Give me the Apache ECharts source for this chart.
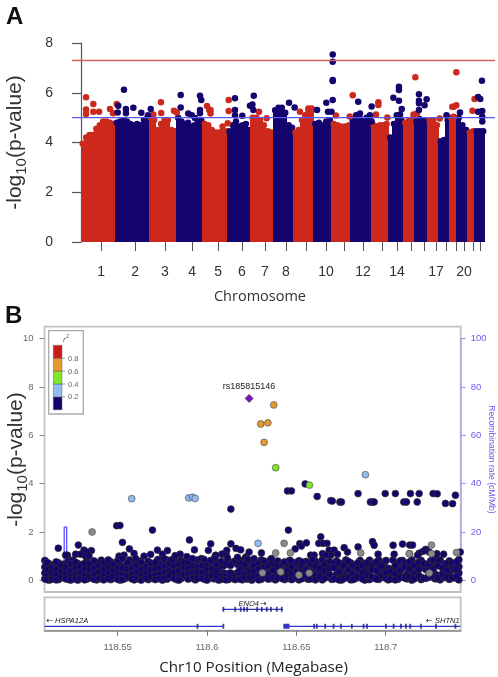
<!DOCTYPE html>
<html><head><meta charset="utf-8">
<style>html,body{margin:0;padding:0;background:#fff}#c{width:498px;height:677px}</style>
<script src="https://cdn.jsdelivr.net/npm/echarts@6/dist/echarts.min.js"></script></head>
<body><div id="c"></div>
<script>
// ---- Panel A data (genome position in Mb from the start of chr1) ----
const chromSpans=[243,243,196,189,178,164,161,146,139,132,136,150,118,107,82,93,79,75,54,79,50,71];
const chromTicks=[143,386,600,793,979,1150,1314,1464,1607,1750,1879,2014,2150,2257,2357,2450,2536,2607,2679,2736,2800,2850];
const chromLabelPos=[143,386,600,793,979,1150,1314,1464,1750,2014,2257,2536,2736];
const chromLabels=['1','2','3','4','5','6','7','8','10','12','14','17','20'];
const chromTops=[
[3.95,4.2,4.3,4.3,4.55,4.7,4.85,4.85,4.8,4.75],
[4.8,4.85,4.9,4.85,4.75,4.7,4.75,4.7,4.9,5.0],
[5.0,4.9,4.5,4.75,4.9,4.9,4.5,4.45],
[5.0,4.85,4.75,4.8,4.65,4.7,4.85,4.9],
[4.75,4.7,4.5,4.4,4.4,4.65,4.45],
[4.45,4.7,4.85,4.65,4.7,4.75,4.5],
[5.0,5.0,4.9,4.7,4.45,4.4],
[5.3,5.4,5.4,5.2,4.7,4.6],
[4.4,4.5,4.9,5.1,5.3,5.3],
[4.75,4.8,4.7,4.85,4.9],
[4.75,4.7,4.65,4.65,4.7],
[4.9,5.1,5.0,4.9,5.0,4.9],
[4.7,4.65,4.7,4.7,4.75],
[4.2,4.75,5.05,4.9],
[4.8,4.9,4.95],
[4.85,4.95,4.9,4.85],
[4.9,4.9,4.7],
[4.05,4.1,4.9],
[5.0,4.95],
[5.0,4.7,4.5],
[4.4,4.45],
[4.45,4.45,4.45]];
const redHits=[[36,5.82],[36,5.33],[36,5.15],[88,5.55],[88,5.24],[129,5.24],[207,5.35],[229,5.18],[255,5.55],[571,5.62],[573,5.19],[516,5.13],[664,5.28],[684,5.21],[900,5.47],[916,5.31],[925,5.31],[925,5.17],[1055,5.71],[1055,5.27],[1048,4.77],[1271,5.24],[1326,4.97],[1564,5.24],[1624,5.37],[1648,5.37],[1821,5.09],[1919,5.05],[1941,5.9],[2124,5.62],[2124,5.51],[2107,5.13],[2188,5.01],[2388,6.62],[2375,5.13],[2400,5.17],[2562,4.96],[2652,5.44],[2662,5.04],[2662,5.44],[2681,5.5],[2681,6.82],[2796,5.28],[2811,5.75]];
const navyHits=[[307,6.12],[266,5.48],[262,5.21],[321,5.35],[321,5.18],[374,5.4],[431,5.2],[498,5.35],[479,5.1],[712,5.91],[712,5.41],[850,5.88],[850,5.31],[850,5.18],[859,5.71],[766,5.17],[791,5.1],[814,4.98],[1100,5.78],[1100,5.31],[1100,5.1],[1152,5.08],[1207,5.48],[1224,5.53],[1234,5.88],[1231,5.31],[1486,5.6],[1526,5.41],[1686,5.31],[1752,5.6],[1764,5.24],[1789,5.24],[1798,7.54],[1798,7.25],[1798,6.51],[1798,6.47],[1798,5.71],[1980,5.64],[1993,5.17],[2076,5.45],[2064,5.1],[2076,4.84],[2231,5.8],[2271,6.24],[2271,6.11],[2271,5.68],[2291,5.35],[2255,5.1],[2279,5.13],[2414,5.94],[2414,5.68],[2414,5.58],[2414,5.31],[2469,5.74],[2454,5.5],[2611,5.1],[2707,5.21],[2836,5.83],[2836,5.24],[2852,5.75],[2864,6.48],[2866,5.27],[2866,5.04],[2866,4.84]];
const thresholds=[7.3,5];

// ---- Panel B data (kb from regionStartMb, -log10 p) ----
const regionStartMb=118.49944;
const leadSnp=[[124.1,7.53]];
const orangeSnps=[[137.9,7.26],[130.6,6.47],[134.6,6.52],[132.5,5.71]];
const greenSnps=[[139,4.66],[157.9,3.94]];
const lightBlueSnps=[[58.4,3.38],[90.3,3.41],[92.4,3.44],[93.9,3.39],[189.2,4.37],[129.1,1.53]];
const grayLowSnps=[[36.2,2.0],[143.7,1.53],[139,1.13],[147.2,1.13],[186.6,1.13],[226.2,1.46],[226.2,1.1],[240.2,1.15],[214,1.1],[213.7,1.1],[131.6,.31],[157.7,.3],[141.8,.35],[152,.22],[225,.3]];
const navyHighSnps=[[155.5,3.99],[145.6,3.7],[147.8,3.7],[162.2,3.47],[169.8,3.3],[170.7,3.28],[174.9,3.24],[175.8,3.24],[185.1,3.59],[192,3.24],[193.1,3.24],[194.1,3.24],[200.3,3.59],[206,3.59],[210.7,3.24],[212.2,3.24],[214.4,3.59],[218.2,3.24],[219.3,3.59],[227.1,3.59],[229.4,3.58],[234,3.18],[238,3.17],[239.6,3.52],[113.9,2.95],[50,2.26],[51.8,2.27],[70,2.08],[146.1,2.08],[164.2,1.8]];
const navyFringe=[[17.3,1.33],[28.5,1.46],[53.2,1.57],[31.7,1.25],[35.8,1.23],[33.2,1.17],[57.1,1.3],[59.7,1.11],[27,1.08],[22.4,1.04],[21.4,1.04],[29.8,1.08],[32.6,1],[34.5,1],[72.8,1.25],[78.4,1.23],[75.6,1.08],[69,1.07],[65.3,1],[60.6,.9],[51.3,1],[54.1,1.04],[85.5,1.08],[76.5,.9],[53.2,.9],[81.2,.86],[90.7,1.67],[93.5,1.26],[101.3,1.24],[102.6,1.51],[113.9,1.51],[111.6,1.24],[116.8,1.32],[119.4,1.26],[82.7,1.02],[89.2,.98],[97.6,.88],[105,.98],[108.8,1.08],[122.4,.97],[124.1,1.17],[131,1.13],[109.2,1.08],[111.4,1.04],[105.4,1.04],[122.2,.94],[92.4,.9],[97.4,.9],[104.9,.9],[149.9,1.3],[152.5,1.52],[153.4,1.42],[156.2,1.55],[163.1,1.53],[165.5,1.53],[167.7,1.53],[158.6,1.04],[160.5,1.04],[165.2,1.1],[159.6,.85],[132.5,.8],[136.6,.9],[143.7,.75],[147.4,.8],[152.1,.8],[154,.75],[177.3,1.35],[179.2,1.17],[185.1,1.38],[193.2,1.6],[194.1,1.45],[204.7,1.45],[210,1.5],[214,1.46],[215.6,1.46],[196.3,1.08],[205.3,1.08],[223,1.28],[221.5,1.2],[219.3,1.12],[224.9,1.17],[218.4,1.04],[228.6,1.04],[233,1.08],[229.2,1.1],[242.3,1.17],[168.9,1.25],[171.7,1.25],[173.6,1.08],[169.8,1.04],[167,1.04],[117.6,.95],[112,.92],[123.2,.88],[126.9,.9],[98.9,.86],[102.6,.82]];
// each row: kb position, then the -log10 p values stacked at that position
const snpBand=[
[9.8,.82,.55,.3,.06],[12.2,.68,.42,.15,.01],[14.9,.6,.36,.1],[17.4,.72,.5,.24,.03],[20.1,.66,.4,.12],[22.8,.78,.52,.27,.04],[25.5,.84,.6,.33,.08],[28.2,.7,.45,.18,.01],[30.6,.64,.38,.11],[33.3,.8,.53,.28,.05],[36.1,.58,.34,.09],[38.8,.71,.46,.2,.02],[41.4,.83,.56,.3,.06],[44,.68,.42,.15],[46.7,.76,.5,.24,.03],[49.3,.6,.35,.1],[51.9,.64,.4,.17,.01],[54.6,.58,.32,.07],[57.2,.84,.6,.36,.12],[59.8,.7,.44,.2,.02],[62.4,.8,.53,.27,.05],[65,.66,.4,.14],[67.7,.78,.5,.25,.03],[70.3,.62,.34,.09],[73,.86,.6,.36,.11],[75.6,.7,.46,.2,.01],[78.2,.84,.55,.28,.05],[80.9,.66,.42,.14],[83.5,.76,.5,.24,.03],[86,.82,.58,.31,.07],[88.7,.68,.4,.16],[91.3,.86,.62,.36,.1],[94,.72,.48,.2,.02],[96.6,.66,.41,.14],[99.2,.78,.5,.26,.04],[101.9,.62,.37,.1],[104.5,.84,.58,.3,.06],[107.1,.72,.47,.19,.01],[109.8,.6,.3,.08],[112.4,.8,.66,.28,.03],[115,.74,.25,.07],[117.6,.66,.31,.11],[120.3,.82,.58,.35,.02],[123,.7,.45,.19,.05],[125.6,.76,.5,.26,.01],[128.2,.62,.36,.11],[130.9,.84,.58,.28,.04],[133.5,.7,.42,.15],[136.2,.86,.6,.33,.07],[138.8,.74,.5,.22,.02],[141.4,.66,.12],[144,.75,.5,.23,.03],[146.7,.82,.56,.32,.07],[149.3,.68,.44,.15],[152,.8,.54,.26,.02],[154.6,.72,.44,.1],[157.2,.6,.12,.04],[159.9,.84,.5,.22],[162.5,.7,.4,.08],[165.1,.85,.58,.27,.02],[167.8,.72,.48,.16],[170.4,.62,.12,.04],[173,.8,.55,.24],[175.7,.68,.42,.1,.01],[178.3,.84,.57,.3],[181,.72,.47,.16,.02],[183.6,.6,.34,.07],[186.2,.82,.5,.22],[188.9,.7,.42,.12,.01],[191.5,.83,.56,.36,.03],[194.1,.7,.5,.1],[196.7,.84,.55,.3,.04],[199.4,.68,.42,.14],[202,.5,.22,.02],[204.6,.84,.46,.12],[207.3,.7,.56,.28,.04],[209.9,.82,.5,.17],[212.5,.67,.25,.06],[215.2,.84,.56,.33,.01],[217.8,.7,.44,.14],[220.4,.82,.55,.12,.03],[223.1,.66,.45,.08],[225.7,.8,.55,.28],[228.3,.7,.26,.06],[231,.84,.62,.2,.02],[233.6,.68,.42,.12],[236.2,.8,.54,.3,.04],[238.9,.66,.45,.1],[241.5,.85,.56,.3,.02]];
const snpBandInner=[
[11,.74,.44,.2,.03],[13.6,.52,.27,.04],[16.1,.76,.45,.2,.02],[18.8,.62,.36,.12],[21.4,.54,.28,.06],[24.2,.68,.4,.16,.01],[26.9,.74,.5,.22,.05],[29.4,.56,.3,.08],[32,.7,.46,.18,.02],[34.7,.66,.42,.14],[37.4,.8,.5,.26,.04],[40.1,.6,.36,.1],[42.7,.73,.46,.22,.02],[45.3,.84,.56,.32,.07],[48,.66,.42,.16],[50.6,.82,.5,.26,.04],[53.2,.48,.24,.03],[55.9,.72,.46,.18],[58.5,.5,.26,.06],[61.1,.62,.36,.12],[63.7,.74,.46,.2,.01],[66.4,.56,.3,.08],[69,.7,.44,.16],[71.6,.74,.48,.22,.03],[74.3,.5,.26,.06],[76.9,.8,.56,.34,.11],[79.5,.7,.38,.2],[82.2,.6,.33,.08],[84.8,.66,.4,.14,.01],[87.4,.76,.5,.24],[90,.74,.5,.26,.05],[92.7,.6,.3,.1],[95.3,.84,.56,.34,.08],[97.9,.6,.32,.09],[100.6,.7,.44,.18,.01],[103.2,.72,.48,.2],[105.8,.65,.4,.14],[108.5,.78,.2,.04],[111.1,.7,.16,.02],[113.7,.62,.3,.12],[116.3,.8,.18,.03],[119,.72,.46,.22,.05],[121.6,.64,.27,.1],[124.3,.82,.34,.1],[126.9,.62,.38,.16],[129.5,.72,.47,.2,.02],[132.2,.76,.52,.12],[134.8,.62,.26,.05],[137.5,.66,.42,.12],[140.1,.8,.58,.1],[142.7,.62,.4,.07],[145.4,.68,.38,.14],[148,.58,.27,.03],[150.6,.74,.36,.1],[153.3,.62,.34,.06],[156,.78,.45,.2],[158.6,.68,.35,.06],[161.2,.8,.58,.2,.02],[163.8,.5,.15],[166.5,.65,.38,.1],[169.1,.78,.5,.24],[171.7,.7,.52,.06],[174.4,.72,.35,.02],[177,.62,.2,.06],[179.6,.78,.44,.12],[182.3,.6,.28,.03],[184.9,.72,.48,.14],[187.5,.6,.3,.06],[190.2,.72,.2],[192.8,.62,.44,.14],[195.4,.76,.4,.05],[198,.58,.2],[200.7,.82,.3,.08],[203.3,.36,.05],[205.9,.62,.28,.02],[208.6,.8,.42,.12],[211.2,.72,.55,.1],[213.9,.76,.48,.14],[216.5,.62,.26,.06],[219.1,.74,.45,.18],[221.7,.7,.08],[224.4,.6,.4,.14],[227,.84,.46,.16],[229.7,.78,.6,.1],[232.3,.52,.26],[234.9,.7,.42,.14],[237.5,.72,.12],[240.2,.76,.46,.18]];
const recombKb=[9.6,20.6,20.6,22,22,242.3];
const recombRate=[0,0,22,22,0,0];
const snpTicksMb=[118.55,118.6,118.65,118.7];
// genes: span in kb and exon kb positions
const eno4Span=[109.3,142.9], eno4Exons=[109.7,116.3,119.4,121.3,123,128.6,131.2,134,136.3,139.6,142.4];
const hspa12aSpan=[9.6,109.7], hspa12aExons=[95.2,109.7];
const shtn1Span=[143.3,242.3], shtn1Block=[143.3,146.7], shtn1Exons=[160.5,162,166.7,171.4,175.5,181.6,188.2,190.1,200.7,205,209.1,211.9,214.3,220.3,228.7,239.6];
const ldColors=['#12006b','#8fbdee','#7fe62a','#e8982e','#cc1a1a'];
const ldBreaks=['0.2','0.4','0.6','0.8'];

// ---- helpers ----
const RED='#cc291c',NAVY='#14056e',SANS='"Liberation Sans",Arial,sans-serif',TITLE='"Open Sans",sans-serif';
const mb=k=>regionStartMb+k/1000;
const pts=a=>a.map(p=>[mb(p[0]),p[1]]);
const bandPts=[];snpBand.concat(snpBandInner).forEach(r=>{for(let i=1;i<r.length;i++)bandPts.push([mb(r[0]),r[i]]);});
const massSeg=[];let cum=0;
chromSpans.forEach((s,c)=>{const t=chromTops[c],w=s/t.length;t.forEach((v,i)=>massSeg.push([cum+i*w,cum+(i+1)*w,v,c]));cum+=s;});
const yName=(gap)=>({name:'{a|-log}{b|10}{a|(p-value)}',nameLocation:'middle',nameGap:gap,nameRotate:90,nameMoveOverlap:false,
  nameTextStyle:{rich:{a:{fontFamily:SANS,fontSize:21,color:'#333',lineHeight:28,verticalAlign:'middle'},b:{fontFamily:SANS,fontSize:15,color:'#333',lineHeight:28,verticalAlign:'bottom',padding:[9,0,0,0]}}}});
const dots=(data,color,size,x,y,z,border)=>({type:'scatter',xAxisIndex:x,yAxisIndex:y,data,symbolSize:size,z,clip:false,silent:true,large:false,itemStyle:{color,opacity:1,borderColor:border||color,borderWidth:border?0.7:0}});
const geneLine=(span,track,w)=>({type:'line',xAxisIndex:3,yAxisIndex:4,data:span.map(k=>[mb(k),track]),symbol:'none',silent:true,lineStyle:{color:'#3434c4',width:w||1.2},z:3});
const exons=(list,track)=>({type:'scatter',xAxisIndex:3,yAxisIndex:4,data:list.map(k=>[mb(k),track]),symbol:'rect',symbolSize:[1.8,5],silent:true,itemStyle:{color:'#1a1a8c'},z:4});

const legendTop=345.3,cell=12.9;
const graphic=[
 {type:'text',x:6,y:17,style:{text:'A',font:'bold 24px '+SANS,fill:'#111',textVerticalAlign:'middle'}},
 {type:'text',x:5,y:316,style:{text:'B',font:'bold 24px '+SANS,fill:'#111',textVerticalAlign:'middle'}},
 {type:'text',x:260,y:297,style:{text:'Chromosome',font:'14.5px '+TITLE,fill:'#333',textAlign:'center',textVerticalAlign:'middle'}},
 {type:'text',x:253.5,y:667.5,style:{text:'Chr10 Position (Megabase)',font:'15.2px '+TITLE,fill:'#222',textAlign:'center',textVerticalAlign:'middle'}},
 {type:'rect',shape:{x:48.7,y:330.7,width:34.6,height:83.3},style:{fill:'#fff',stroke:'#aaa',lineWidth:1.3},z:20},
 {type:'text',x:63,y:339.5,style:{text:'r',font:'italic 8px '+SANS,fill:'#555',textVerticalAlign:'middle'},z:21},
 {type:'text',x:66,y:336.5,style:{text:'2',font:'5.5px '+SANS,fill:'#555',textVerticalAlign:'middle'},z:21},
 {type:'text',x:259,y:604,style:{text:'ENO4',font:'italic 7.5px '+SANS,fill:'#222',textAlign:'right',textVerticalAlign:'middle'}},
 {type:'text',x:260,y:604,style:{text:'→',font:'8px "DejaVu Sans"',fill:'#222',textVerticalAlign:'middle'}},
 {type:'text',x:46.5,y:620.5,style:{text:'←',font:'8px "DejaVu Sans"',fill:'#222',textVerticalAlign:'middle'}},
 {type:'text',x:55,y:620.5,style:{text:'HSPA12A',font:'italic 7.5px '+SANS,fill:'#222',textVerticalAlign:'middle'}},
 {type:'text',x:426,y:620.5,style:{text:'←',font:'8px "DejaVu Sans"',fill:'#222',textVerticalAlign:'middle'}},
 {type:'text',x:435,y:620.5,style:{text:'SHTN1',font:'italic 7.5px '+SANS,fill:'#222',textVerticalAlign:'middle'}},
 {type:'text',x:491,y:459.5,rotation:-Math.PI/2,style:{text:'Recombination rate (cM/Mb)',font:'8.6px '+SANS,fill:'#6a5cf0',textAlign:'center',textVerticalAlign:'middle'}}
];
ldColors.forEach((c,i)=>graphic.push({type:'rect',z:21,shape:{x:53.3,y:legendTop+(4-i)*cell,width:8.7,height:cell},style:{fill:c,stroke:'#666',lineWidth:.5}}));
ldBreaks.forEach((t,i)=>{const y=legendTop+(3-i)*cell+cell;
 graphic.push({type:'line',z:21,shape:{x1:62,y1:y,x2:65,y2:y},style:{stroke:'#777',lineWidth:.7}});
 graphic.push({type:'text',z:21,x:68,y:y+.5,style:{text:t,font:'7.5px '+SANS,fill:'#666',textVerticalAlign:'middle'}});});

const chart=echarts.init(document.getElementById('c'),null,{renderer:'canvas'});
chart.setOption({
 animation:false,backgroundColor:'#fff',graphic,
 grid:[
  {left:72,top:43,width:423,height:199,outerBoundsMode:'none'},
  {left:44.5,top:326.7,width:416.2,height:265.3,show:true,borderColor:'#c2c2c2',borderWidth:1.8,backgroundColor:'transparent',outerBoundsMode:'none'},
  {left:44.5,top:338.7,width:416.2,height:241.6,outerBoundsMode:'none'},
  {left:44.5,top:597.3,width:416.2,height:33.4,show:true,borderColor:'#c2c2c2',borderWidth:1.8,backgroundColor:'transparent',outerBoundsMode:'none'}
 ],
 xAxis:[
  {gridIndex:0,type:'value',min:-64.3,max:2957.1,splitLine:{show:false},axisLine:{show:false},
   axisTick:{show:true,length:9,customValues:chromTicks,lineStyle:{color:'#555',width:1}},
   axisLabel:{margin:23,fontFamily:SANS,fontSize:14,color:'#333',customValues:chromLabelPos,formatter:v=>chromLabels[chromLabelPos.indexOf(v)]}},
  {gridIndex:1,type:'value',min:0,max:1,show:false},
  {gridIndex:2,type:'value',min:118.50901,max:118.74199,show:false},
  {gridIndex:3,type:'value',min:118.50901,max:118.74199,splitLine:{show:false},axisLine:{show:true,lineStyle:{color:'#8a8a8a',width:1.5}},
   axisTick:{show:true,length:5,customValues:snpTicksMb,lineStyle:{color:'#777',width:1}},
   axisLabel:{margin:12,fontFamily:SANS,fontSize:9.5,color:'#666',customValues:snpTicksMb,formatter:v=>String(v)}}
 ],
 yAxis:[
  Object.assign({gridIndex:0,type:'value',min:0,max:8,interval:2,splitLine:{show:false},axisLine:{show:true,lineStyle:{color:'#555',width:1.2}},
   axisTick:{show:true,length:9,lineStyle:{color:'#555',width:1.2}},axisLabel:{margin:19,fontFamily:SANS,fontSize:14,color:'#333'}},yName(43)),
  {gridIndex:1,type:'value',min:0,max:1,show:false},
  Object.assign({gridIndex:2,type:'value',min:0,max:10,interval:2,splitLine:{show:false},axisLine:{show:false},
   axisTick:{show:true,length:5,lineStyle:{color:'#888',width:1}},axisLabel:{margin:11,fontFamily:SANS,fontSize:9.5,color:'#666'}},yName(14)),
  {gridIndex:2,type:'value',position:'right',min:0,max:100,interval:20,splitLine:{show:false},axisLine:{show:true,lineStyle:{color:'#aaaaee',width:1.5}},
   axisTick:{show:true,length:5,lineStyle:{color:'#8f8ff0',width:1}},axisLabel:{margin:10,fontFamily:SANS,fontSize:9.5,color:'#6a5cf0'}},
  {gridIndex:3,type:'value',min:.741,max:2.706,show:false}
 ],
 series:[
  {type:'custom',xAxisIndex:0,yAxisIndex:0,data:massSeg,silent:true,z:2,clip:false,encode:{x:[0,1],y:2},
   renderItem:(p,api)=>{const a=api.coord([api.value(0),api.value(2)]),b=api.coord([api.value(1),0]);
    const fill=api.value(3)%2?NAVY:RED;
    return {type:'group',children:[
     {type:'rect',shape:{x:Math.floor(a[0]),y:a[1],width:Math.ceil(b[0])-Math.floor(a[0]),height:b[1]-a[1]},style:{fill}},
     {type:'circle',shape:{cx:(a[0]+b[0])/2,cy:a[1],r:3.2},style:{fill}}]};}},
  dots(redHits,RED,6.5,0,0,3),
  dots(navyHits,NAVY,6.5,0,0,3),
  {type:'line',xAxisIndex:0,yAxisIndex:0,data:[[-64.3,thresholds[0]],[2957.1,thresholds[0]]],symbol:'none',silent:true,z:5,lineStyle:{color:'#d8605e',width:1.5}},
  {type:'line',xAxisIndex:0,yAxisIndex:0,data:[[-64.3,thresholds[1]],[2957.1,thresholds[1]]],symbol:'none',silent:true,z:5,lineStyle:{color:'#5a5af0',width:1.3}},
  {type:'line',xAxisIndex:2,yAxisIndex:3,data:recombKb.map((k,i)=>[mb(k),recombRate[i]]),symbol:'none',silent:true,z:2,lineStyle:{color:'#5a4cff',width:1.3}},
  dots(pts(grayLowSnps),'#8a8a8a',6.8,2,2,4,'#555'),
  dots(bandPts,NAVY,7,2,2,3,'#2e2e2e'),
  dots(pts(navyFringe),NAVY,6.8,2,2,3,'#2e2e2e'),
  dots(pts(navyHighSnps),NAVY,6.8,2,2,4,'#333'),
  dots(pts(lightBlueSnps),ldColors[1],6.8,2,2,5,'#555'),
  dots(pts(greenSnps),ldColors[2],6.8,2,2,5,'#555'),
  dots(pts(orangeSnps),ldColors[3],6.8,2,2,5,'#555'),
  Object.assign(dots(pts(leadSnp),'#7a10c8',8,2,2,6,'#333'),{symbol:'diamond',
   label:{show:true,position:'top',distance:3,formatter:'rs185815146',fontFamily:SANS,fontSize:9,color:'#222'}}),
  geneLine(eno4Span,2),exons(eno4Exons,2),
  geneLine(hspa12aSpan,1),exons(hspa12aExons,1),
  geneLine(shtn1Span,1),geneLine(shtn1Block,1,5),exons(shtn1Exons,1)
 ]
});
</script></body></html>
